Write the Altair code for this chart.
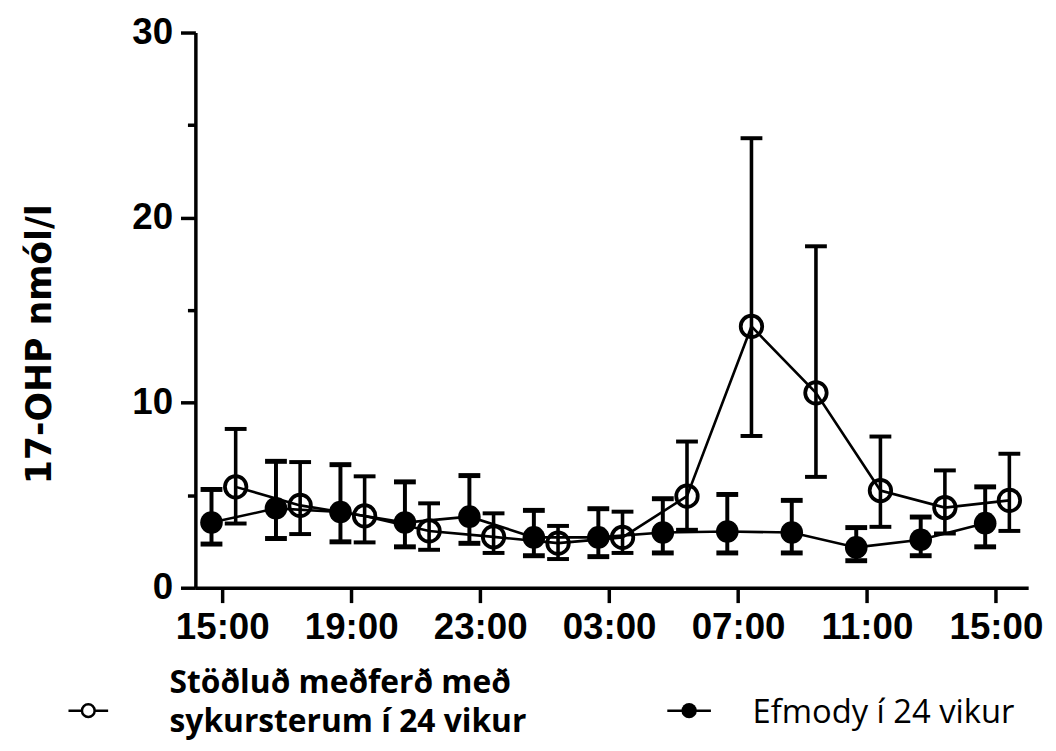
import json
import altair as alt
import pandas as pd

# ---------------- data ----------------
tick_values = [15, 19, 23, 27, 31, 35, 39]
tick_labels = ["15:00", "19:00", "23:00", "03:00", "07:00", "11:00", "15:00"]

std_label = "Stöðluð meðferð með\nsykursterum í 24 vikur"
std_times = ["15:25", "17:25", "19:25", "21:25", "23:25", "01:25", "03:25",
             "05:25", "07:25", "09:25", "11:25", "13:25", "15:25"]
std_mean = [5.45, 4.45, 3.88, 3.07, 2.75, 2.41, 2.72, 4.95, 14.12, 10.53, 5.25, 4.33, 4.72]
std_upper = [8.58, 6.79, 6.02, 4.56, 4.02, 3.34, 4.11, 7.90, 24.29, 18.45, 8.17, 6.34, 7.24]
std_lower = [3.47, 2.90, 2.45, 2.05, 1.88, 1.55, 1.88, 3.13, 8.20, 5.99, 3.29, 2.93, 3.07]

efm_label = "Efmody í 24 vikur"
efm_times = ["14:40", "16:40", "18:40", "20:40", "22:40", "00:40", "02:40",
             "04:40", "06:40", "08:40", "10:40", "12:40", "14:40"]
efm_mean = [3.52, 4.29, 4.09, 3.52, 3.84, 2.72, 2.72, 2.98, 3.04, 2.98, 2.18, 2.59, 3.49]
efm_upper = [5.31, 6.83, 6.65, 5.72, 6.06, 4.18, 4.27, 4.81, 5.04, 4.72, 3.25, 3.82, 5.45]
efm_lower = [2.36, 2.66, 2.48, 2.21, 2.40, 1.73, 1.68, 1.88, 1.88, 1.88, 1.46, 1.73, 2.21]

y_title = "17-OHP nmól/l"


def to_hours(times):
    out, day, prev = [], 0, None
    for t in times:
        h, m = map(int, t.split(":"))
        v = h + m / 60 + 24 * day
        if prev is not None and v < prev:
            day += 1
            v += 24
        out.append(v)
        prev = v
    return out


df_std = pd.DataFrame({"hours": to_hours(std_times), "mean": std_mean,
                       "upper": std_upper, "lower": std_lower})
df_efm = pd.DataFrame({"hours": to_hours(efm_times), "mean": efm_mean,
                       "upper": efm_upper, "lower": efm_lower})

# ---------------- layout ----------------
W, H = 840, 560
AXW = 3.5

label_expr_x = "{}[indexof({}, datum.value)]".format(json.dumps(tick_labels), json.dumps(tick_values))

x_axis = alt.Axis(values=tick_values, labelExpr=label_expr_x, title=None, grid=False,
                  domainWidth=AXW, domainColor="black", tickWidth=AXW, tickColor="black",
                  tickSize=15, labelFont="Liberation Sans", labelFontWeight="bold",
                  labelFontSize=37, labelColor="black", labelPadding=7,
                  labelOverlap=False, labelFlush=False)

y_axis = alt.Axis(values=[0, 5, 10, 15, 20, 25, 30],
                  labelExpr="datum.value % 10 === 0 ? datum.label : ''",
                  title=y_title, grid=False,
                  domainWidth=AXW, domainColor="black", tickWidth=AXW, tickColor="black",
                  tickSize={"condition": {"test": "datum.value % 10 === 0", "value": 15}, "value": 8},
                  labelFont="Liberation Sans", labelFontWeight="bold", labelFontSize=37,
                  labelColor="black", labelPadding=8, labelOverlap=False, labelFlush=False,
                  titleFont="DejaVu Sans", titleFontWeight="bold", titleFontSize=35,
                  titleColor="black", titleAngle=270, titleX=-157, titleY=314,
                  titleAlign="center", titleBaseline="middle")

xs = alt.Scale(domain=[14.1667, 40.0], nice=False, zero=False)
ys = alt.Scale(domain=[0, 30], nice=False, zero=True)


def X():
    return alt.X("hours:Q", scale=xs, axis=x_axis)


def series_layers(df, filled):
    base = alt.Chart(df)
    ebw = 4 if filled else 3.6
    capth = 5 if filled else 4
    rule = base.mark_rule(color="black", strokeWidth=ebw).encode(
        x=X(), y=alt.Y("lower:Q", scale=ys, axis=y_axis), y2="upper:Q")
    cap_hi = base.mark_tick(color="black", orient="horizontal", size=22, thickness=capth, opacity=1).encode(
        x=X(), y=alt.Y("upper:Q", scale=ys, axis=y_axis))
    cap_lo = base.mark_tick(color="black", orient="horizontal", size=22, thickness=capth, opacity=1).encode(
        x=X(), y=alt.Y("lower:Q", scale=ys, axis=y_axis))
    line = base.mark_line(color="black", strokeWidth=2.6).encode(
        x=X(), y=alt.Y("mean:Q", scale=ys, axis=y_axis))
    if filled:
        pts = base.mark_circle(color="black", size=520, opacity=1).encode(
            x=X(), y=alt.Y("mean:Q", scale=ys, axis=y_axis))
    else:
        pts = base.mark_point(shape="circle", filled=False, color="black", size=470,
                              strokeWidth=3.8, opacity=1).encode(
            x=X(), y=alt.Y("mean:Q", scale=ys, axis=y_axis))
    return [rule, cap_hi, cap_lo, line, pts]


# ---------------- legend (below the plot) ----------------
open_sym = "M-1,0H-0.32M0.32,0H1M0.32,0A0.32,0.32,0,1,1,-0.32,0A0.32,0.32,0,1,1,0.32,0Z"
leg_df = pd.DataFrame({"label": [std_label, efm_label]})

sym_y = 684
leg_open = alt.Chart(leg_df.iloc[[0]]).mark_point(
    shape=open_sym, filled=False, color="black", strokeWidth=2.5, size=1600, opacity=1
).encode(x=alt.value(-108), y=alt.value(sym_y))
leg_filled_line = alt.Chart(leg_df.iloc[[1]]).mark_rule(color="black", strokeWidth=2.5).encode(
    x=alt.value(476), x2=alt.value(520), y=alt.value(sym_y))
leg_filled_dot = alt.Chart(leg_df.iloc[[1]]).mark_circle(color="black", size=240, opacity=1).encode(
    x=alt.value(498), y=alt.value(sym_y))
leg_text1 = alt.Chart(leg_df.iloc[[0]]).mark_text(
    align="left", baseline="middle", font="Open Sans", fontWeight="bold", fontSize=32,
    lineBreak="\n", lineHeight=40, color="black"
).encode(x=alt.value(-26), y=alt.value(656), text="label:N")
leg_text2 = alt.Chart(leg_df.iloc[[1]]).mark_text(
    align="left", baseline="middle", font="Open Sans", fontSize=33, color="black"
).encode(x=alt.value(562), y=alt.value(686), text="label:N")

layers = series_layers(df_efm, True) + series_layers(df_std, False) + \
    [leg_open, leg_filled_line, leg_filled_dot, leg_text1, leg_text2]

chart = alt.layer(*layers).properties(
    width=W, height=H,
    autosize=alt.AutoSizeParams(type="none"),
    padding={"left": 189, "top": 21.5, "right": 20, "bottom": 170},
    background="white",
).configure_view(stroke=None)

chart.save("out.html", embed_options={"renderer": "svg", "actions": False})
